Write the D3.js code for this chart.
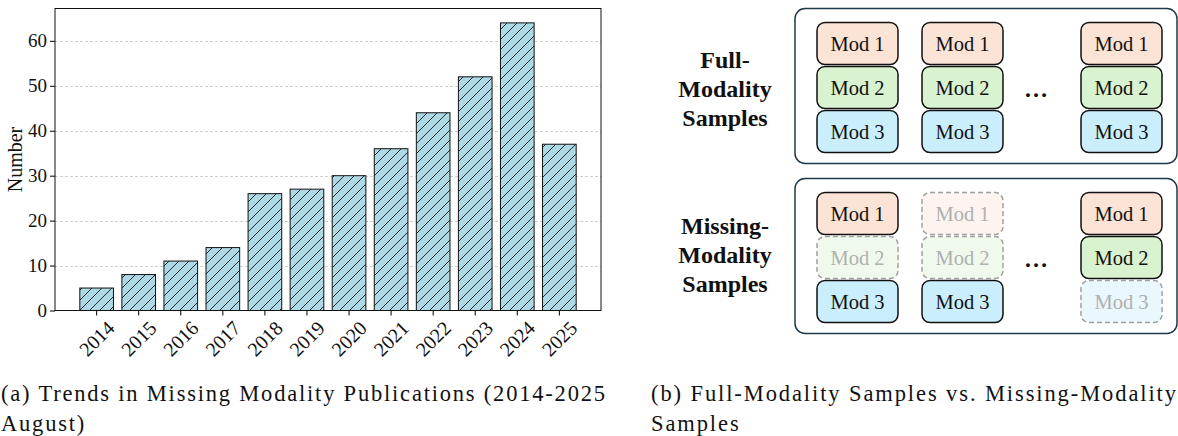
<!DOCTYPE html>
<html>
<head>
<meta charset="utf-8">
<script src="https://cdn.jsdelivr.net/npm/d3@7"></script>
<style>
  body { margin: 0; background: #fff; }
  svg text { font-family: "Liberation Serif", "Times New Roman", serif; }
</style>
</head>
<body>
<script>
// publications per year
const years = ["2014", "2015", "2016", "2017", "2018", "2019", "2020", "2021", "2022", "2023", "2024", "2025"];
const counts = [5, 8, 11, 14, 26, 27, 30, 36, 44, 52, 64, 37];
const yTicks = [0, 10, 20, 30, 40, 50, 60];

// modality diagram
const mods = ["Mod 1", "Mod 2", "Mod 3"];
const groups = [
  ["Full-", "Modality", "Samples"],
  ["Missing-", "Modality", "Samples"]
];
// 1 = present, 0 = missing ; one array per sample column
const fullSamples = [[1, 1, 1], [1, 1, 1], [1, 1, 1]];
const missingSamples = [[1, 0, 1], [0, 0, 1], [1, 1, 0]];

const captionA = ["(a) Trends in Missing Modality Publications (2014-2025", "August)"];
const captionB = ["(b) Full-Modality Samples vs. Missing-Modality", "Samples"];

const SERIF = "Liberation Serif";
const W = 1178, H = 436;
const svg = d3.select("body").append("svg")
  .attr("width", W).attr("height", H)
  .attr("font-family", SERIF)
  .style("display", "block");

// ---- bar chart ----
const m = { left: 55, right: 601, top: 8.5, bottom: 310.5 };

const x = d3.scaleBand().domain(years).range([m.left, m.right])
  .paddingInner(0.2).paddingOuter(0.59);
const y = d3.scaleLinear().domain([0, 67.2]).range([m.bottom, m.top]);

const defs = svg.append("defs");
const pat = defs.append("pattern")
  .attr("id", "hatch")
  .attr("patternUnits", "userSpaceOnUse")
  .attr("width", 10).attr("height", 10);
pat.append("rect").attr("width", 10).attr("height", 10).attr("fill", "#add8e6");
pat.append("path")
  .attr("d", "M-2.5,2.5 l5,-5 M0,10 l10,-10 M7.5,12.5 l5,-5")
  .attr("stroke", "#1a1a1a").attr("stroke-width", 0.9);

// grid
svg.append("g")
  .selectAll("line")
  .data(yTicks.filter(d => d > 0))
  .join("line")
  .attr("x1", m.left).attr("x2", m.right)
  .attr("y1", d => Math.round(y(d)) + 0.5).attr("y2", d => Math.round(y(d)) + 0.5)
  .attr("stroke", "#c4c4c4").attr("stroke-width", 0.8)
  .attr("stroke-dasharray", "3,2");

// bars
svg.append("g")
  .selectAll("rect")
  .data(years)
  .join("rect")
  .attr("x", (d) => x(d))
  .attr("y", (d, i) => y(counts[i]))
  .attr("width", x.bandwidth())
  .attr("height", (d, i) => y(0) - y(counts[i]))
  .attr("fill", "url(#hatch)")
  .attr("stroke", "#111")
  .attr("stroke-width", 1);

// frame
svg.append("rect")
  .attr("x", m.left).attr("y", m.top)
  .attr("width", m.right - m.left).attr("height", m.bottom - m.top)
  .attr("fill", "none").attr("stroke", "#111").attr("stroke-width", 1);

// y axis
const yAxis = svg.append("g")
  .attr("transform", `translate(${m.left},0)`)
  .call(d3.axisLeft(y).tickValues(yTicks).tickSize(5).tickPadding(3));
yAxis.attr("font-family", SERIF);
yAxis.select(".domain").remove();
yAxis.selectAll("text").attr("font-size", 19).attr("fill", "#111");

// x axis
const xAxis = svg.append("g")
  .attr("transform", `translate(0,${m.bottom})`)
  .call(d3.axisBottom(x).tickSize(5));
xAxis.attr("font-family", SERIF);
xAxis.select(".domain").remove();
xAxis.selectAll("text")
  .attr("font-size", 20).attr("fill", "#111")
  .attr("text-anchor", "middle")
  .attr("dy", null).attr("y", null)
  .attr("dominant-baseline", "central")
  .attr("transform", "translate(0,28) rotate(-45)");

svg.append("text")
  .attr("transform", `translate(22,${(m.top + m.bottom) / 2}) rotate(-90)`)
  .attr("text-anchor", "middle")
  .attr("font-size", 20)
  .attr("fill", "#111")
  .text("Number");

// ---- modality diagram ----
const panelX = 795, panelW = 382, panelH = 155;
const panelTops = [8.5, 178.5];
const colX = [817, 922, 1081];
const boxW = 81, boxH = 42;
const rowY = d3.scalePoint().domain(mods).range([14, 102]);
const fills = ["#fbe3d6", "#d9f2d0", "#caeefb"];
const sampleSets = [fullSamples, missingSamples];
const labelBase = [[68, 97, 126], [234, 263, 292]];

groups.forEach((g, gi) => {
  const top = panelTops[gi];
  const pg = svg.append("g").attr("font-family", SERIF);
  pg.append("rect")
    .attr("x", panelX).attr("y", top)
    .attr("width", panelW).attr("height", panelH)
    .attr("rx", 10)
    .attr("fill", "none")
    .attr("stroke", "#1d3a4a").attr("stroke-width", 1.5);

  pg.selectAll("text.lbl")
    .data(g)
    .join("text")
    .attr("class", "lbl")
    .attr("x", 725)
    .attr("y", (d, i) => labelBase[gi][i])
    .attr("text-anchor", "middle")
    .attr("font-family", SERIF)
    .attr("font-size", 24)
    .attr("font-weight", "bold")
    .attr("fill", "#111")
    .text(d => d);

  const cells = [];
  sampleSets[gi].forEach((col, ci) => {
    col.forEach((p, ri) => cells.push({ ci, ri, p, mod: mods[ri] }));
  });

  const cg = pg.selectAll("g.cell")
    .data(cells)
    .join("g")
    .attr("class", "cell")
    .attr("transform", d => `translate(${colX[d.ci]},${top + rowY(d.mod)})`);

  cg.append("rect")
    .attr("width", boxW).attr("height", boxH)
    .attr("rx", 8)
    .attr("fill", d => fills[d.ri])
    .attr("fill-opacity", d => d.p ? 1 : 0.4)
    .attr("stroke", d => d.p ? "#111" : "#a0a0a0")
    .attr("stroke-width", 1.5)
    .attr("stroke-dasharray", d => d.p ? null : "5,3");

  cg.append("text")
    .attr("x", boxW / 2).attr("y", boxH / 2 + 7)
    .attr("text-anchor", "middle")
    .attr("font-family", SERIF)
    .attr("font-size", 20.5)
    .attr("fill", d => d.p ? "#111" : "#b0b0b0")
    .text(d => d.mod);

  pg.append("text")
    .attr("x", 1036).attr("y", top + 88)
    .attr("text-anchor", "middle")
    .attr("font-family", SERIF)
    .attr("font-size", 24)
    .attr("font-weight", "bold")
    .attr("fill", "#111")
    .text("\u2026");
});

// ---- captions ----
function caption(lines, x0, w0) {
  const t = svg.append("g").selectAll("text")
    .data(lines)
    .join("text")
    .attr("x", x0)
    .attr("y", (d, i) => 401 + i * 30)
    .attr("font-family", SERIF)
    .attr("font-size", 22.5)
    .attr("fill", "#111")
    .text(d => d);
  // spread letters evenly so the first line spans the same width as the reference
  const first = t.nodes()[0];
  const ls = (w0 - first.getComputedTextLength()) / (lines[0].length - 1);
  t.attr("letter-spacing", Math.max(0, ls));
}
caption(captionA, 1, 604);
caption(captionB, 651, 525);
</script>
</body>
</html>
